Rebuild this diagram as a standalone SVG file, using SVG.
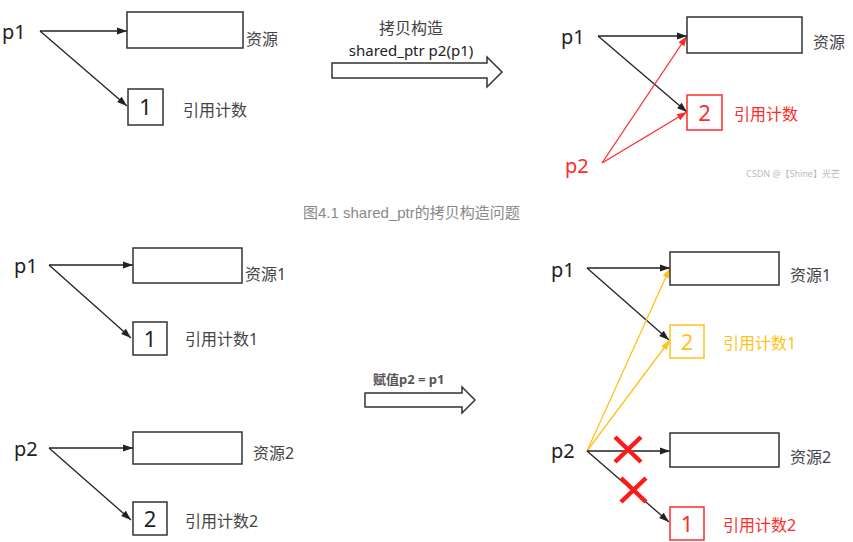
<svg xmlns="http://www.w3.org/2000/svg" width="853" height="542" viewBox="0 0 853 542">
<defs>
<style>
text{font-family:"Noto Sans","Liberation Sans","Noto Sans CJK SC",sans-serif}
.ptr{font-size:20px;fill:#222}
.num{font-size:22px;fill:#222;text-anchor:middle}
.lbl{font-size:16px;fill:#444}
.box{fill:#fff;stroke:#333;stroke-width:1.5}
.ln{stroke:#222;stroke-width:1.3;fill:none}
.red{stroke:#ff2a2a}
.yel{stroke:#ffc21a}
.x{stroke:#ff1a1a;stroke-width:4.5;fill:none}
.big{fill:#fff;stroke:#333;stroke-width:1.5}
</style>
<marker id="ab" viewBox="0 0 10 10" refX="10" refY="5" markerWidth="12" markerHeight="10" markerUnits="userSpaceOnUse" orient="auto"><path d="M0,1.5L10,5L0,8.5z" fill="#222"/></marker>
<marker id="ar" viewBox="0 0 10 10" refX="10" refY="5" markerWidth="12" markerHeight="10" markerUnits="userSpaceOnUse" orient="auto"><path d="M0,1.5L10,5L0,8.5z" fill="#ff2a2a"/></marker>
<marker id="ay" viewBox="0 0 10 10" refX="10" refY="5" markerWidth="12" markerHeight="10" markerUnits="userSpaceOnUse" orient="auto"><path d="M0,1.5L10,5L0,8.5z" fill="#ffc21a"/></marker>
</defs>
<rect width="853" height="542" fill="#fff"/>

<g id="connectors">
<line class="ln" x1="40" y1="31" x2="127" y2="31" marker-end="url(#ab)"/>
<line class="ln" x1="40" y1="31" x2="127" y2="106" marker-end="url(#ab)"/>
<line class="ln" x1="598" y1="36" x2="687" y2="36" marker-end="url(#ab)"/>
<line class="ln" x1="598" y1="36" x2="687" y2="112" marker-end="url(#ab)"/>
<line class="ln red" x1="602" y1="163" x2="687" y2="36" marker-end="url(#ar)"/>
<line class="ln red" x1="602" y1="163" x2="687" y2="112" marker-end="url(#ar)"/>
<line class="ln" x1="49" y1="265" x2="133" y2="265" marker-end="url(#ab)"/>
<line class="ln" x1="49" y1="265" x2="131" y2="338" marker-end="url(#ab)"/>
<line class="ln" x1="49" y1="448" x2="133" y2="448" marker-end="url(#ab)"/>
<line class="ln" x1="49" y1="448" x2="131" y2="520" marker-end="url(#ab)"/>
<line class="ln" x1="587" y1="268" x2="670" y2="268" marker-end="url(#ab)"/>
<line class="ln" x1="587" y1="268" x2="669" y2="340" marker-end="url(#ab)"/>
<line class="ln yel" x1="587" y1="451" x2="670" y2="268" marker-end="url(#ay)"/>
<line class="ln yel" x1="587" y1="451" x2="670" y2="340" marker-end="url(#ay)"/>
<line class="ln" x1="587" y1="451" x2="670" y2="451" marker-end="url(#ab)"/>
<line class="ln" x1="587" y1="451" x2="669" y2="522" marker-end="url(#ab)"/>
</g>

<g id="p1-top"><text class="ptr" x="2" y="39">p1</text></g>
<g id="res-top"><rect class="box" x="127" y="12" width="116" height="36"/><text class="lbl" x="246" y="45">资源</text></g>
<g id="cnt-top"><rect class="box" x="128" y="89" width="35" height="36"/><text class="num" x="145.5" y="115">1</text><text class="lbl" x="183" y="116">引用计数</text></g>

<g id="copy-arrow">
<path class="big" d="M332,63H487V57L502,72L487,87V78H332Z"/>
<text x="411" y="34" style="font-size:16px;fill:#444;text-anchor:middle">拷贝构造</text>
<text x="411" y="56" style="font-size:15px;fill:#222;text-anchor:middle">shared_ptr p2(p1)</text>
</g>

<g id="p1-tr"><text class="ptr" x="561" y="44">p1</text></g>
<g id="res-tr"><rect class="box" x="687" y="17" width="115" height="36"/><text class="lbl" x="813" y="48">资源</text></g>
<g id="cnt-tr"><rect class="box" x="687" y="95" width="35" height="35" style="stroke:#ff2a2a"/><text class="num" x="704.5" y="121" style="fill:#ff2a2a">2</text><text class="lbl" x="734" y="120" style="fill:#ff2a2a">引用计数</text></g>
<g id="p2-tr"><text class="ptr" x="565" y="173" style="fill:#ff2a2a">p2</text></g>
<text x="746" y="177" style="font-size:9px;fill:#bbb">CSDN @【Shine】光芒</text>

<text x="303" y="218" style="font-size:15px;fill:#888;font-family:'Liberation Sans','Noto Sans CJK SC',sans-serif">图4.1 shared_ptr的拷贝构造问题</text>

<g id="p1-bl"><text class="ptr" x="14" y="273">p1</text></g>
<g id="res1-bl"><rect class="box" x="133" y="248" width="109" height="35"/><text class="lbl" x="245" y="280">资源1</text></g>
<g id="cnt1-bl"><rect class="box" x="133" y="322" width="34" height="33"/><text class="num" x="150" y="347">1</text><text class="lbl" x="185" y="345">引用计数1</text></g>
<g id="p2-bl"><text class="ptr" x="14" y="456">p2</text></g>
<g id="res2-bl"><rect class="box" x="133" y="432" width="109" height="32"/><text class="lbl" x="253" y="459">资源2</text></g>
<g id="cnt2-bl"><rect class="box" x="133" y="502" width="34" height="33"/><text class="num" x="150" y="527">2</text><text class="lbl" x="185" y="527">引用计数2</text></g>

<g id="assign-arrow">
<path class="big" d="M365,393H462V387L475,400L462,413V407H365Z"/>
<text x="373" y="384" style="font-size:13px;fill:#555;font-weight:bold">赋值p2 = p1</text>
</g>

<g id="p1-br"><text class="ptr" x="551" y="277">p1</text></g>
<g id="res1-br"><rect class="box" x="670" y="252" width="109" height="33"/><text class="lbl" x="790" y="281">资源1</text></g>
<g id="cnt1-br"><rect class="box" x="670" y="325" width="34" height="33" style="stroke:#ffc21a"/><text class="num" x="687" y="350" style="fill:#ffc21a">2</text><text class="lbl" x="723" y="349" style="fill:#ffc21a">引用计数1</text></g>
<g id="p2-br"><text class="ptr" x="551" y="458">p2</text></g>
<g id="res2-br"><rect class="box" x="670" y="433" width="109" height="34"/><text class="lbl" x="790" y="463">资源2</text></g>
<g id="cnt2-br"><rect class="box" x="670" y="507" width="34" height="33" style="stroke:#ff2a2a"/><text class="num" x="687" y="532" style="fill:#ff2a2a">1</text><text class="lbl" x="723" y="531" style="fill:#ff2a2a">引用计数2</text></g>

<g id="crosses">
<path class="x" d="M615,437L641,462M641,437L615,462"/>
<path class="x" d="M621,478L646,502M646,478L621,502"/>
</g>
</svg>
